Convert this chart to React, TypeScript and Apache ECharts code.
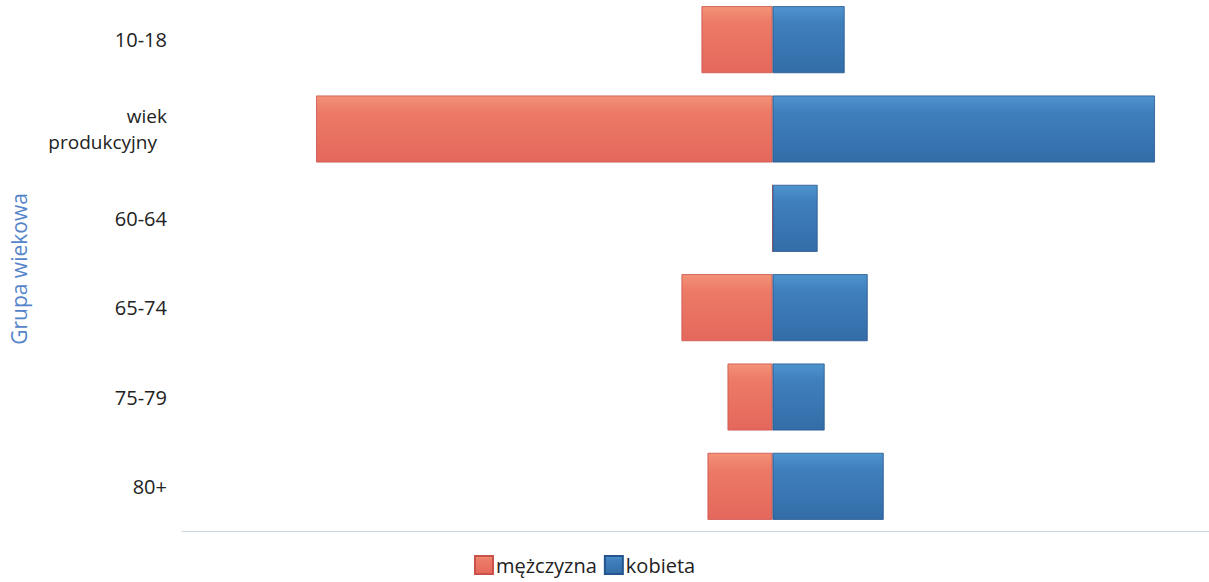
import React, { useEffect, useRef } from "react";
import * as echarts from "echarts";

const categories = ["10-18", "wiek\nprodukcyjny", "60-64", "65-74", "75-79", "80+"];
const men = [35.5, 228, 0, 45.5, 22.5, 32.5];
const women = [36, 191, 22.5, 47.5, 26, 55.5];
const seriesNames = ["mężczyzna", "kobieta"];
const axisName = "Grupa wiekowa";

const FONT = "'Open Sans', 'Noto Sans', sans-serif";

export default function App() {
  const ref = useRef<HTMLDivElement>(null);
  useEffect(() => {
    const chart = echarts.init(ref.current!, null, { renderer: "svg" });
    const redGrad = new echarts.graphic.LinearGradient(0, 0, 0, 1, [
      { offset: 0, color: "#F39277" },
      { offset: 0.25, color: "#EC7A66" },
      { offset: 1, color: "#E4685C" },
    ]);
    const blueGrad = new echarts.graphic.LinearGradient(0, 0, 0, 1, [
      { offset: 0, color: "#4E94CF" },
      { offset: 0.25, color: "#3F7FBC" },
      { offset: 1, color: "#336DA8" },
    ]);
    chart.setOption({
      animation: false,
      textStyle: { fontFamily: FONT },
      grid: {
        left: 182,
        right: 0,
        top: -5,
        height: 536,
        containLabel: false,
        outerBoundsMode: "none",
      },
      graphic: [
        {
          type: "text",
          x: 19,
          y: 269,
          rotation: Math.PI / 2,
          style: {
            text: axisName,
            fill: "#5584CA",
            fontSize: 21,
            fontFamily: FONT,
            align: "center",
            verticalAlign: "middle",
          },
        },
      ],
      legend: {
        data: seriesNames,
        top: 555,
        left: 474,
        padding: 0,
        itemWidth: 18,
        itemHeight: 18,
        itemGap: 7,
        icon: "rect",
        textStyle: { fontSize: 20, color: "#222", fontFamily: FONT, padding: [0, 0, 0, -2] },
      },
      xAxis: {
        type: "value",
        min: -295,
        max: 218,
        axisLine: { show: true, lineStyle: { color: "#CDD5DF", width: 1 } },
        axisTick: { show: false },
        axisLabel: { show: false },
        splitLine: { show: false },
      },
      yAxis: {
        type: "category",
        data: categories,
        inverse: true,
        axisLine: { show: false, onZero: false },
        axisTick: { show: false },
        axisLabel: {
          margin: 15,
          fontSize: 20,
          color: "#222",
          fontFamily: FONT,
          lineHeight: 26,
          align: "right",
          formatter: (v: string) => {
            if (v.indexOf("\n") >= 0) {
              const parts = v.split("\n");
              return `{a|${parts[0]}}\n{b|${parts[1]}}`;
            }
            return v;
          },
          rich: {
            a: { fontSize: 19, color: "#222", fontFamily: FONT, lineHeight: 26 },
            b: { fontSize: 19, color: "#222", fontFamily: FONT, lineHeight: 26, padding: [0, 10, 0, 0] },
          },
        },
        splitLine: { show: false },
      },
      series: [
        {
          name: seriesNames[0],
          type: "bar",
          stack: "total",
          barCategoryGap: "25%",
          data: men.map((v) => -v),
          itemStyle: { color: redGrad, borderColor: "#C9524A", borderWidth: 0.8 },
        },
        {
          name: seriesNames[1],
          type: "bar",
          stack: "total",
          barCategoryGap: "25%",
          data: women,
          itemStyle: { color: blueGrad, borderColor: "#24558E", borderWidth: 0.8 },
        },
      ],
    });
    return () => chart.dispose();
  }, []);
  return (
    <div
      ref={ref}
      style={{ position: "absolute", left: 0, top: 0, width: 1209, height: 582 }}
    />
  );
}
